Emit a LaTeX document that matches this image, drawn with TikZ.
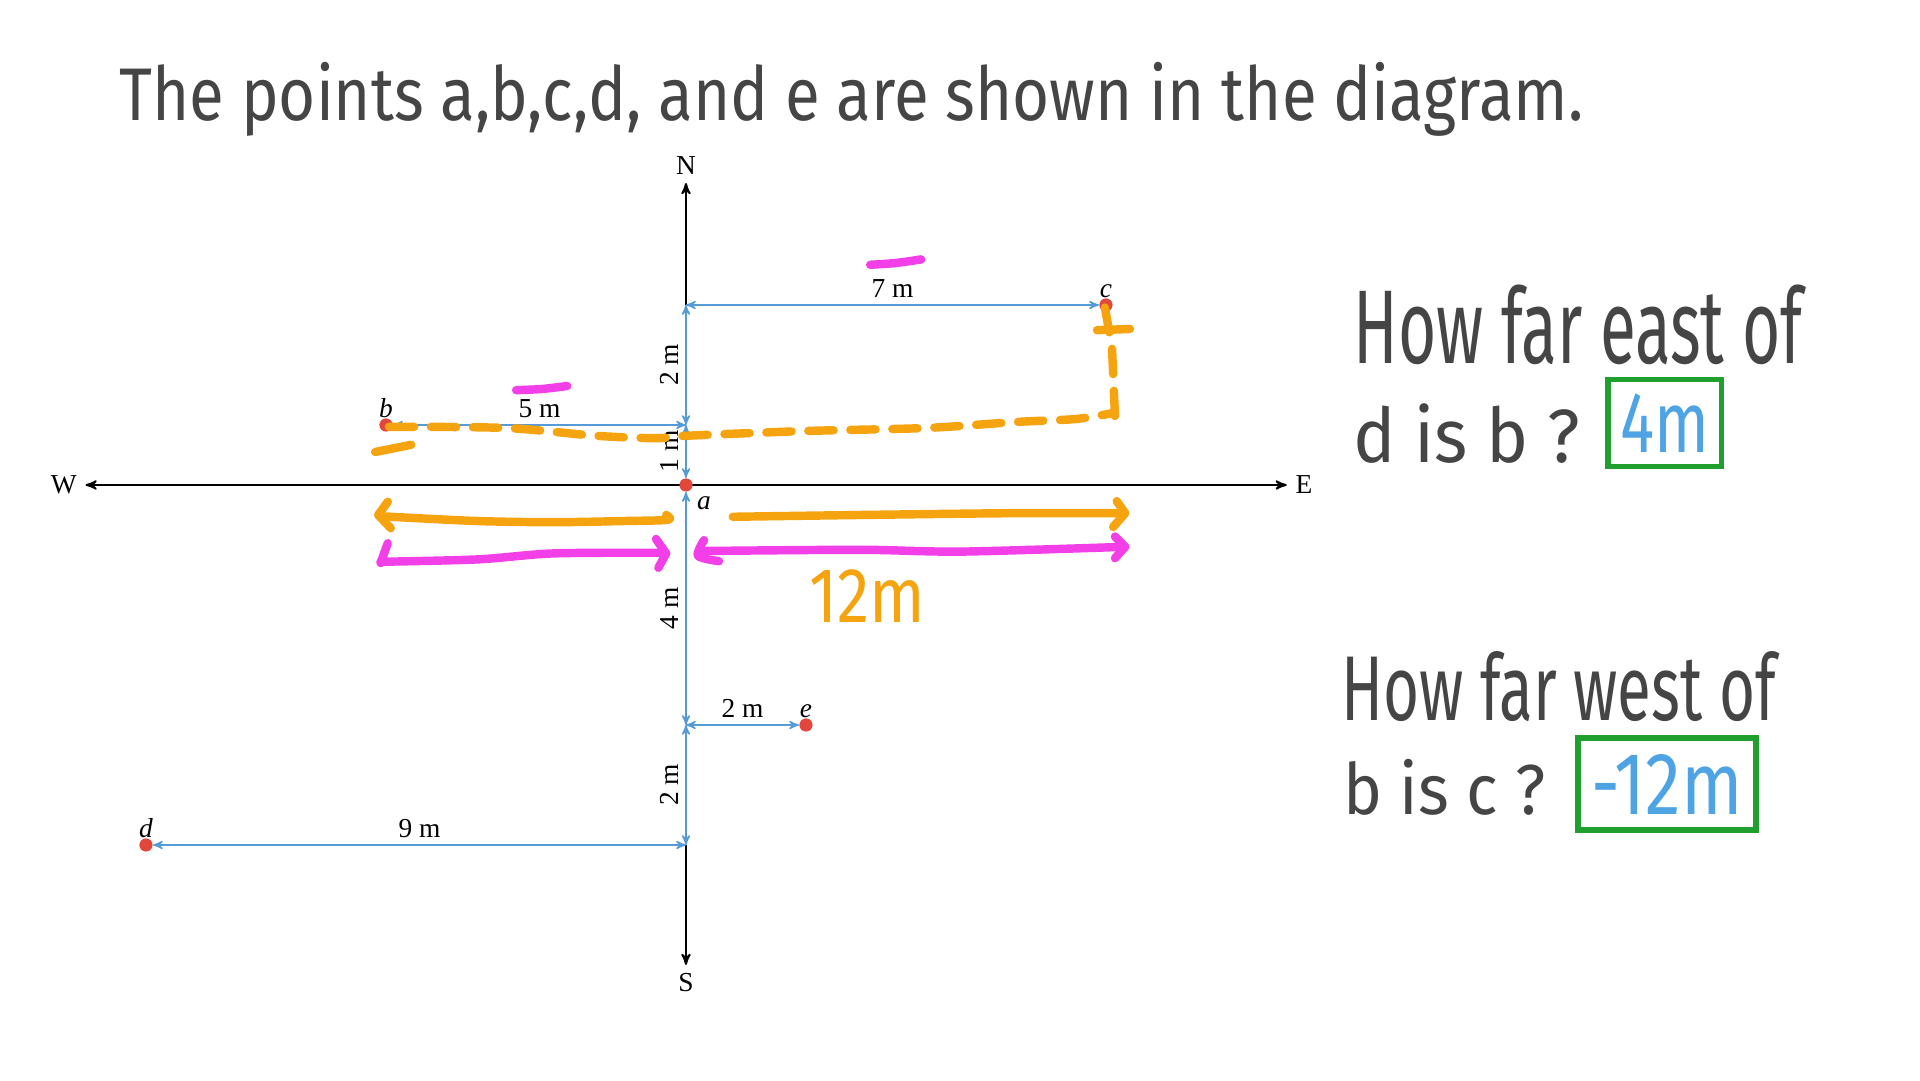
\documentclass[tikz,border=0pt]{standalone}
\usepackage{fontspec}
\setmainfont{Liberation Serif}
\newfontfamily\handfont{Fira Sans}
\usetikzlibrary{arrows}
\definecolor{dimblue}{HTML}{559BD8}
\definecolor{ptred}{HTML}{E2473B}
\definecolor{orng}{HTML}{F5A30F}
\definecolor{mgnt}{HTML}{F23FE8}
\definecolor{ansblue}{HTML}{4DA3E3}
\definecolor{boxgreen}{HTML}{1FA02E}
\definecolor{ink}{HTML}{454545}
\newcommand{\hw}[3]{\resizebox{#1}{#2}{\handfont #3}}

\begin{document}
\begin{tikzpicture}[font=\fontsize{13}{15}\selectfont,
  axis/.style={line width=0.9pt,>=stealth'},
  dim/.style={<->,>=stealth',dimblue,line width=0.7pt},
  dimlab/.style={text=black,inner sep=3pt},
  pt/.style={circle,fill=ptred,inner sep=0pt,minimum size=2.2mm},
  compass/.style={inner sep=4pt,font=\fontsize{13}{15}\selectfont},
  hand/.style={ink,inner sep=0pt,anchor=base west},
  ansbox/.style={draw=boxgreen,line width=2.6pt,text=ansblue,inner sep=0pt},
  pen/.style={line width=4pt,line cap=round,line join=round}]
\useasboundingbox (-11.433,-9.917) rectangle (20.567,8.083);

\node[hand] (title) at (-9.45,6.08) {\hw{24.4cm}{0.97cm}{The points a,b,c,d, and e are shown in the diagram.}};

\coordinate (n1) at (0,1);
\coordinate (n3) at (0,3);
\coordinate (s4) at (0,-4);
\coordinate (s6) at (0,-6);
\node[compass] (N) at (0,5.33) {N};
\node[compass] (S) at (0,-8.3) {S};
\node[compass] (W) at (-10.37,0) {W};
\node[compass] (E) at (10.3,0) {E};
\draw[axis,<->] (W) -- (E);
\draw[axis,->] (n3) -- (N);
\draw[axis,->] (s6) -- (S);

\node[pt] (a) at (0,0) {};
\node[pt] (b) at (-5,1) {};
\node[pt] (c) at (7,3) {};
\node[pt] (d) at (-9,-6) {};
\node[pt] (e) at (2,-4) {};
\node (alab) at (0.3,-0.3) {\textit{a}};
\node[above=0pt] (blab) at (b) {\textit{b}};
\node[above=0pt] (clab) at (c) {\textit{c}};
\node[above=0pt] (dlab) at (d) {\textit{d}};
\node[above=0pt] (elab) at (e) {\textit{e}};

\draw[dim] (a) -- node[dimlab,rotate=90,above] {1 m} (n1);
\draw[dim] (n1) -- node[dimlab,rotate=90,above] {2 m} (n3);
\draw[dim] (a) -- node[dimlab,rotate=90,above] {4 m} (s4);
\draw[dim] (s4) -- node[dimlab,rotate=90,above] {2 m} (s6);
\draw[dim] (n3) -- node[dimlab,above] {7 m} (c);
\draw[dim] (b) -- node[dimlab,above] {5 m} (n1);
\draw[dim] (s4) -- node[dimlab,above] {2 m} (e);
\draw[dim] (d) -- node[dimlab,above] {9 m} (s6);

\draw[pen,orng,dash pattern=on 0.42cm off 0.28cm] plot[smooth] coordinates {(-4.95,0.97) (-3,0.95) (-1.5,0.82) (-0.5,0.78) (0,0.82) (2,0.9) (4,0.95) (5.5,1.05) (6.5,1.1) (7.12,1.2)};
\draw[pen,orng,dash pattern=on 0.42cm off 0.28cm] (7.15,1.15) -- (7.1,2.3) -- (6.98,2.97);
\draw[pen,orng] (6.85,2.58) -- (7.4,2.6);
\draw[pen,orng] (-5.18,0.55) -- (-4.58,0.67);

\draw[pen,orng] plot[smooth] coordinates {(-0.33,-0.5) (-0.3,-0.58) (-1,-0.6) (-2.2,-0.62) (-3.5,-0.6) (-5.1,-0.52)};
\draw[pen,orng] (-4.97,-0.28) -- (-5.13,-0.5) -- (-4.92,-0.72);
\draw[pen,orng] plot[smooth] coordinates {(0.78,-0.53) (2.9,-0.5) (5.45,-0.47) (7.3,-0.47)};
\draw[pen,orng] (7.18,-0.27) -- (7.32,-0.47) -- (7.12,-0.7);

\draw[pen,mgnt] (-4.97,-0.97) -- (-5.09,-1.3);
\draw[pen,mgnt] plot[smooth] coordinates {(-5.09,-1.28) (-3.47,-1.24) (-2.2,-1.14) (-0.35,-1.13)};
\draw[pen,mgnt] (-0.5,-0.9) -- (-0.33,-1.14) -- (-0.46,-1.38);
\draw[pen,mgnt] plot[smooth] coordinates {(0.3,-0.92) (0.2,-1.18) (0.55,-1.27)};
\draw[pen,mgnt] plot[smooth] coordinates {(0.32,-1.1) (2.9,-1.08) (4.6,-1.11) (7.32,-1.03)};
\draw[pen,mgnt] (7.15,-0.86) -- (7.32,-1.03) -- (7.15,-1.22);
\draw[pen,mgnt] plot[smooth] coordinates {(3.07,3.67) (3.5,3.7) (3.92,3.76)};
\draw[pen,mgnt] plot[smooth] coordinates {(-2.83,1.58) (-2.4,1.6) (-1.98,1.65)};

\node[hand,text=orng] (twelve) at (2.05,-2.3) {\hw{1.93cm}{0.88cm}{12m}};

\node[hand] (q1a) at (11.12,2.02) {\hw{7.48cm}{1.31cm}{How far east of}};
\node[hand] (q1b) at (11.12,0.37) {\hw{3.78cm}{0.98cm}{d is b ?}};
\node[ansbox,minimum width=1.89cm,minimum height=1.45cm] (ans1) at (16.315,1.035) {\hw{1.48cm}{0.98cm}{4m}};
\node[hand] (q2a) at (10.92,-3.92) {\hw{7.24cm}{1.15cm}{How far west of}};
\node[hand] (q2b) at (10.95,-5.49) {\hw{3.37cm}{0.92cm}{b is c ?}};
\node[ansbox,minimum width=2.96cm,minimum height=1.53cm] (ans2) at (16.35,-4.985) {\hw{2.53cm}{1.0cm}{-12m}};
\end{tikzpicture}
\end{document}
